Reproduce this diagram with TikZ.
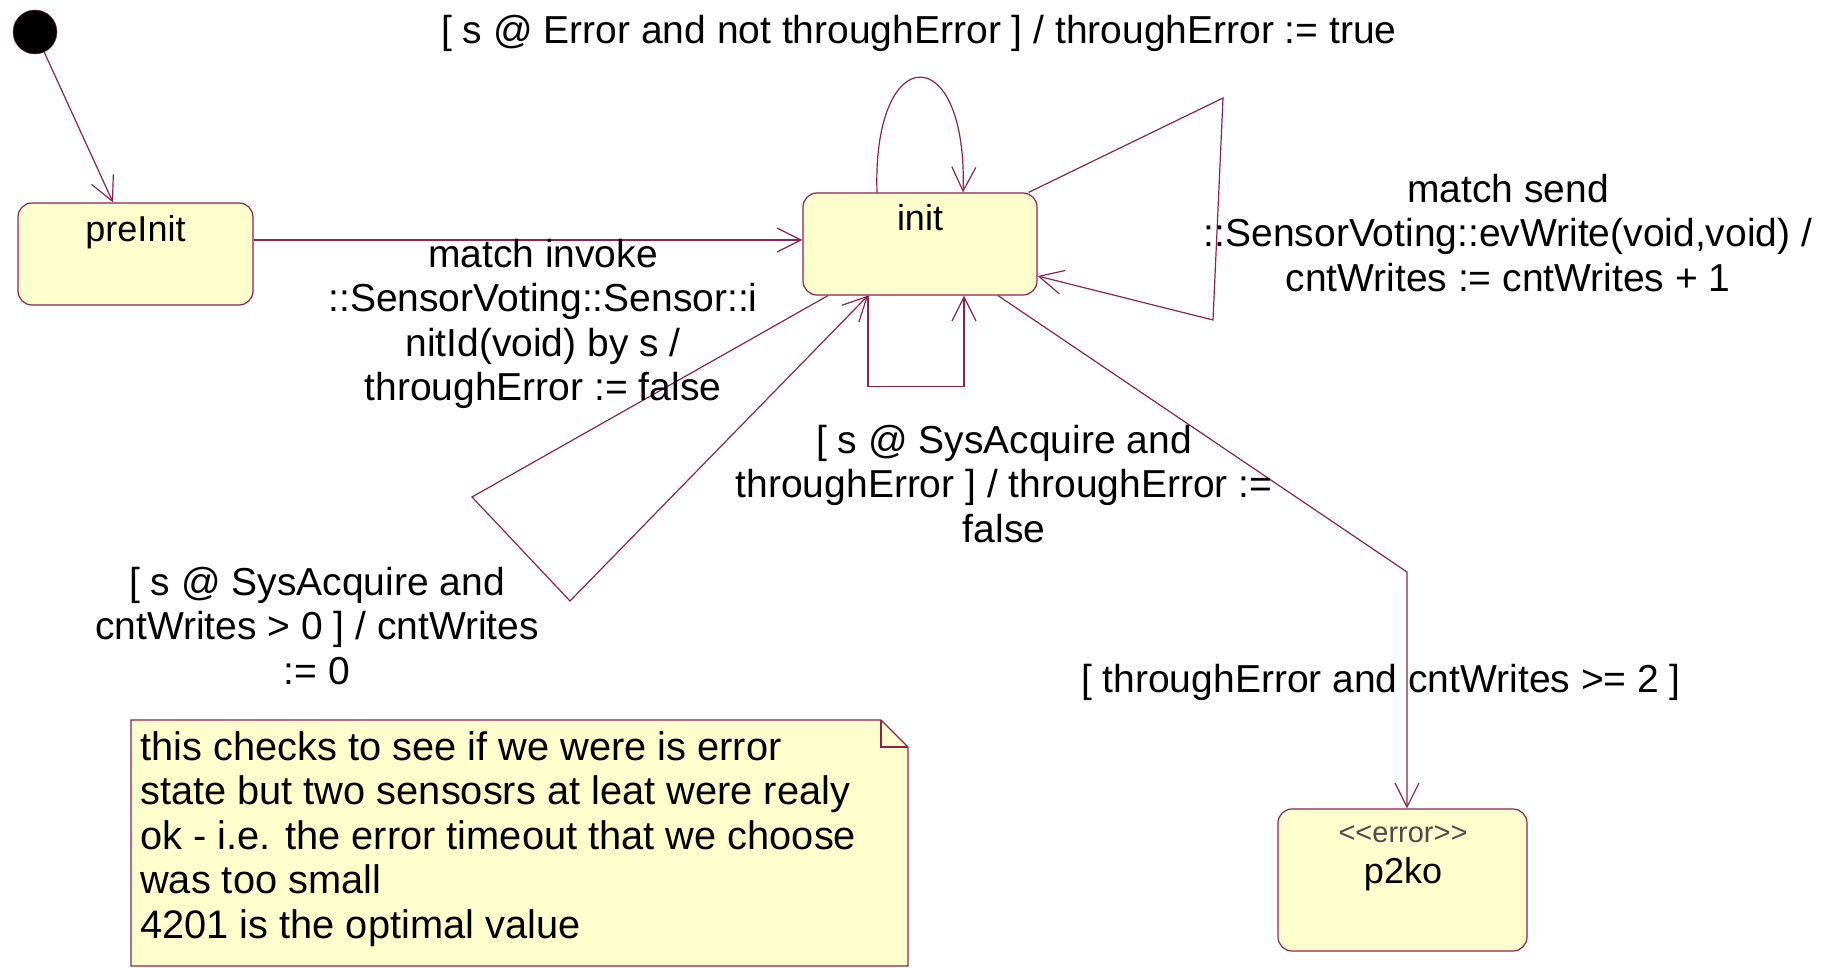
\documentclass[tikz,border=0pt]{standalone}
\usepackage{fontspec}
\setmainfont{Liberation Sans}
\usetikzlibrary{arrows.meta}
\definecolor{edgec}{RGB}{139,34,82}
\definecolor{statefill}{RGB}{255,255,206}
\begin{document}
\begin{tikzpicture}[x=1pt,y=-1pt,
  font=\fontsize{39}{44.6}\selectfont,
  statebox/.style={draw=edgec, fill=statefill, rounded corners=14pt, line width=1.2pt, inner sep=0pt},
  tr/.style={draw=edgec, line width=1.2pt, -{Straight Barb[length=24pt,width=24pt,line width=1.2pt]}},
  lbl/.style={align=center, inner sep=0pt},
  sname/.style={anchor=base, inner sep=0pt, font=\fontsize{36}{40}\selectfont}]
\useasboundingbox (0,0) rectangle (1830,968);
% states
\node[circle, fill=black, draw=edgec, minimum size=44pt, inner sep=0pt] (start) at (35,32) {};
\node[statebox, minimum width=235pt, minimum height=102pt] (preInit) at (135.5,254) {};
\node[sname] (preInitT) at (135.5,242) {preInit};
\node[statebox, minimum width=234pt, minimum height=102pt] (init) at (920,244) {};
\node[sname] (initT) at (920,231) {init};
\node[statebox, minimum width=249pt, minimum height=142pt] (p2ko) at (1402.5,880) {};
\node[inner sep=0pt, font=\fontsize{29}{32}\selectfont, text=black!70] (p2koS) at (1403,834) {<\kern0pt<error>\kern0pt>};
\node[sname] (p2koT) at (1403,883) {p2ko};
% note
\draw[draw=edgec, fill=statefill, line width=1.2pt] (131,720) -- (881,720) -- (908,747) -- (908,966) -- (131,966) -- cycle;
\draw[draw=edgec, line width=1.2pt] (881,720) -- (881,747) -- (908,747);
\node[anchor=north west, align=left, inner sep=0pt, font=\fontsize{39.8}{44.6}\selectfont] (noteT) at (140,731) {this checks to see if we were is error\\state but two sensosrs at leat were realy\\ok - i.e. the error timeout that we choose\\was too small\\4201 is the optimal value};
% coordinates
\coordinate (rl1) at (1223,98);
\coordinate (rl2) at (1213,320);
\coordinate (ll1) at (472,497);
\coordinate (ll2) at (570,601);
\coordinate (bend) at (1407,572);
% transitions
\draw[tr] (start) -- ([xshift=-22.5pt]preInit.north);
\draw[tr] ([yshift=14pt]preInit.east) -- ([yshift=4pt]init.west);
\draw[tr] ([xshift=-43pt]init.north) .. controls (872,39) and (968,39) .. ([xshift=43pt]init.north);
\draw[tr] ([xshift=-9pt]init.north east) -- (rl1) -- (rl2) -- ([yshift=-32pt]init.east);
\draw[tr] ([xshift=-52pt]init.south) -- ++(0,91) -| ([xshift=44pt]init.south);
\draw[tr] ([xshift=-92pt]init.south) -- (ll1) -- (ll2) -- ([xshift=-52pt]init.south);
\draw[tr] ([xshift=78pt]init.south) -- (bend) -- (bend |- p2ko.north);
% labels
\node[lbl] (lTop) at (919,33) {[ s @ Error and not throughError ] / throughError := true};
\node[lbl] (lInv) at (543,324) {match invoke\\::SensorVoting::Sensor::i\\nitId(void) by s /\\throughError := false};
\node[lbl] (lSend) at (1508,233) {match send\\::SensorVoting::evWrite(void,void) /\\cntWrites := cntWrites + 1};
\node[lbl] (lAcq1) at (1004,484) {[ s @ SysAcquire and\\throughError ] / throughError :=\\false};
\node[lbl] (lAcq2) at (317,626) {[ s @ SysAcquire and\\cntWrites > 0 ] / cntWrites\\:= 0};
\node[lbl] (lP2) at (1381,682) {[ throughError and cntWrites >= 2 ]};
\end{tikzpicture}
\end{document}
